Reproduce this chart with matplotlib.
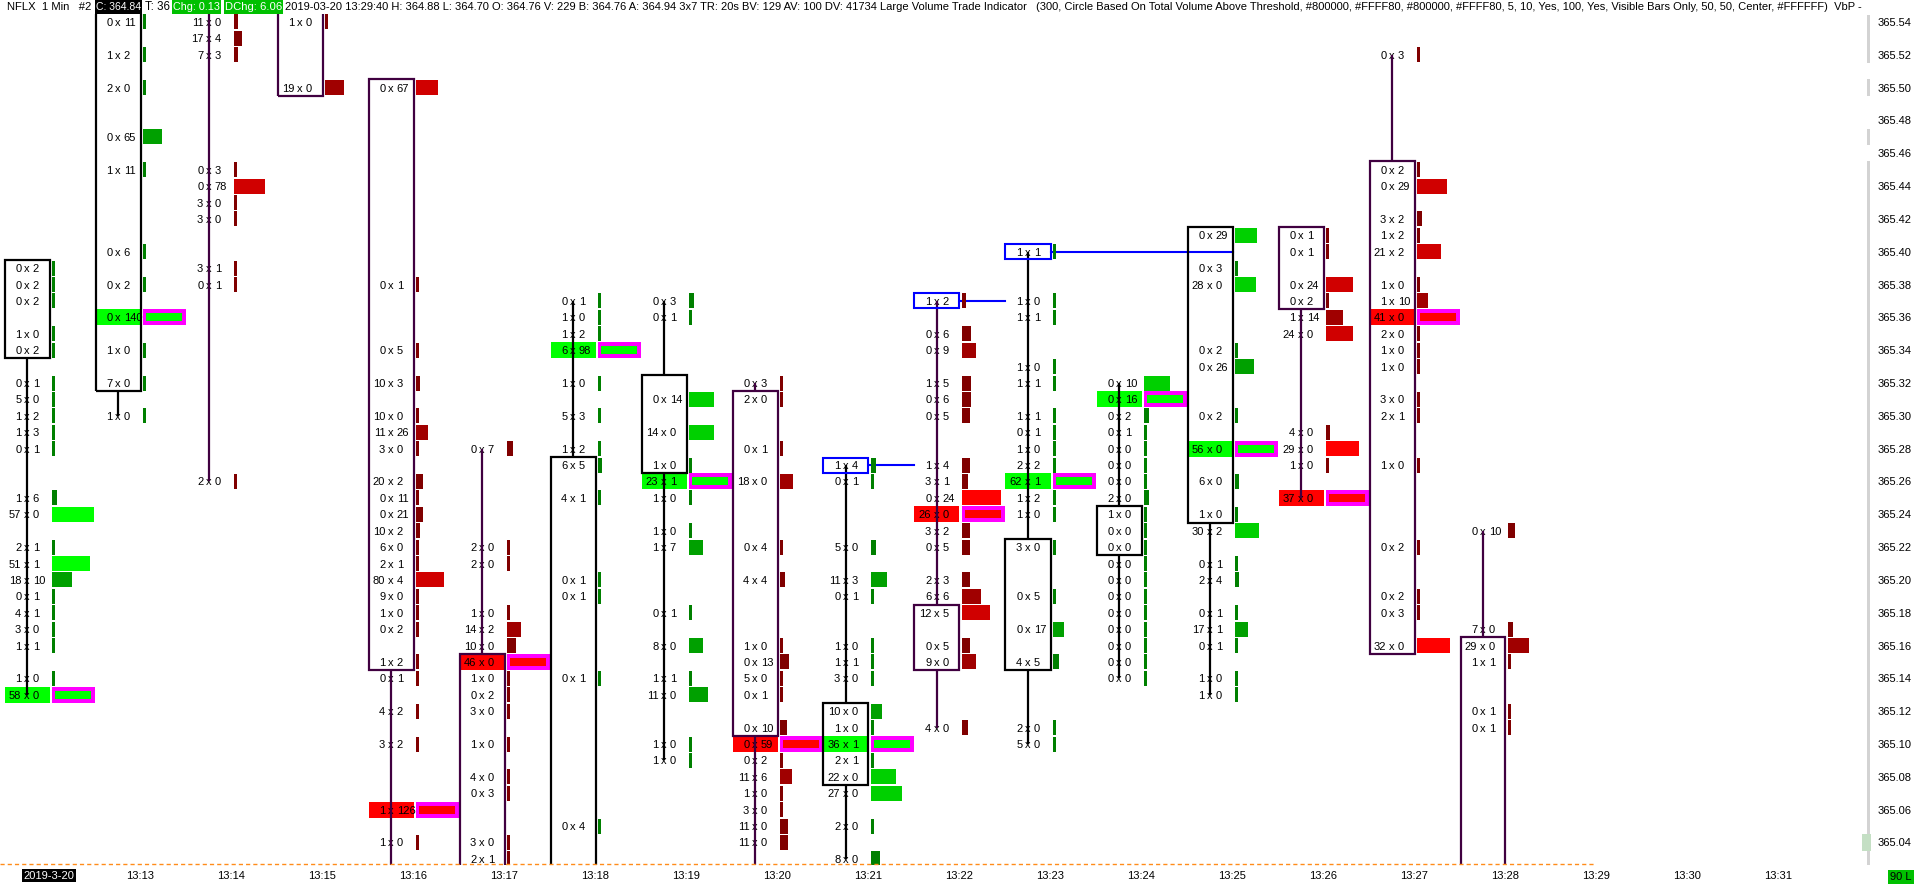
import numpy as np
import matplotlib.pyplot as plt
from matplotlib.patches import Rectangle
from matplotlib import font_manager

# ---- chart data ----
bar_labels = ['13:12', '13:13', '13:14', '13:15', '13:16', '13:17', '13:18', '13:19', '13:20',
              '13:21', '13:22', '13:23', '13:24', '13:25', '13:26', '13:27', '13:28']
bar_open = [365.34, 365.32, 365.60, 365.57, 365.50, 365.15, 364.99, 365.27, 365.31,
            365.08, 365.18, 365.15, 365.22, 365.24, 365.41, 365.45, 365.16]
bar_close = [365.39, 365.58, 365.57, 365.50, 365.15, 365.00, 365.27, 365.32, 365.11,
             365.12, 365.15, 365.22, 365.24, 365.41, 365.37, 365.16, 365.00]
bar_high = [365.39, 365.60, 365.63, 365.58, 365.50, 365.28, 365.37, 365.37, 365.32,
            365.27, 365.37, 365.40, 365.32, 365.41, 365.41, 365.52, 365.23]
bar_low = [365.13, 365.30, 365.26, 365.50, 365.00, 364.99, 364.98, 365.09, 365.01,
           365.03, 365.11, 365.10, 365.14, 365.13, 365.25, 365.16, 364.99]

# price, bid, ask
fp_1312 = [(365.39, 0, 2), (365.38, 0, 2), (365.37, 0, 2), (365.35, 1, 0), (365.34, 0, 2),
           (365.32, 0, 1), (365.31, 5, 0), (365.30, 1, 2), (365.29, 1, 3), (365.28, 0, 1),
           (365.25, 1, 6), (365.24, 57, 0), (365.22, 2, 1), (365.21, 51, 1), (365.20, 18, 10),
           (365.19, 0, 1), (365.18, 4, 1), (365.17, 3, 0), (365.16, 1, 1), (365.14, 1, 0),
           (365.13, 58, 0)]
fp_1313 = [(365.54, 0, 11), (365.52, 1, 2), (365.50, 2, 0), (365.47, 0, 65), (365.45, 1, 11),
           (365.40, 0, 6), (365.38, 0, 2), (365.36, 0, 140), (365.34, 1, 0), (365.32, 7, 0),
           (365.30, 1, 0)]
fp_1314 = [(365.54, 11, 0), (365.53, 17, 4), (365.52, 7, 3), (365.45, 0, 3), (365.44, 0, 78),
           (365.43, 3, 0), (365.42, 3, 0), (365.39, 3, 1), (365.38, 0, 1), (365.26, 2, 0)]
fp_1315 = [(365.54, 1, 0), (365.50, 19, 0)]
fp_1316 = [(365.50, 0, 67), (365.38, 0, 1), (365.34, 0, 5), (365.32, 10, 3), (365.30, 10, 0),
           (365.29, 11, 26), (365.28, 3, 0), (365.26, 20, 2), (365.25, 0, 11), (365.24, 0, 21),
           (365.23, 10, 2), (365.22, 6, 0), (365.21, 2, 1), (365.20, 80, 4), (365.19, 9, 0),
           (365.18, 1, 0), (365.17, 0, 2), (365.15, 1, 2), (365.14, 0, 1), (365.12, 4, 2),
           (365.10, 3, 2), (365.06, 1, 126), (365.04, 1, 0)]
fp_1317 = [(365.28, 0, 7), (365.22, 2, 0), (365.21, 2, 0), (365.18, 1, 0), (365.17, 14, 2),
           (365.16, 10, 0), (365.15, 46, 0), (365.14, 1, 0), (365.13, 0, 2), (365.12, 3, 0),
           (365.10, 1, 0), (365.08, 4, 0), (365.07, 0, 3), (365.04, 3, 0), (365.03, 2, 1)]
fp_1318 = [(365.37, 0, 1), (365.36, 1, 0), (365.35, 1, 2), (365.34, 6, 98), (365.32, 1, 0),
           (365.30, 5, 3), (365.28, 1, 2), (365.27, 6, 5), (365.25, 4, 1), (365.20, 0, 1),
           (365.19, 0, 1), (365.14, 0, 1), (365.05, 0, 4)]
fp_1319 = [(365.37, 0, 3), (365.36, 0, 1), (365.31, 0, 14), (365.29, 14, 0), (365.27, 1, 0),
           (365.26, 23, 1), (365.25, 1, 0), (365.23, 1, 0), (365.22, 1, 7), (365.18, 0, 1),
           (365.16, 8, 0), (365.14, 1, 1), (365.13, 11, 0), (365.10, 1, 0), (365.09, 1, 0)]
fp_1320 = [(365.32, 0, 3), (365.31, 2, 0), (365.28, 0, 1), (365.26, 18, 0), (365.22, 0, 4),
           (365.20, 4, 4), (365.16, 1, 0), (365.15, 0, 13), (365.14, 5, 0), (365.13, 0, 1),
           (365.11, 0, 10), (365.10, 0, 59), (365.09, 0, 2), (365.08, 11, 6), (365.07, 1, 0),
           (365.06, 3, 0), (365.05, 11, 0), (365.04, 11, 0)]
fp_1321 = [(365.27, 1, 4), (365.26, 0, 1), (365.22, 5, 0), (365.20, 11, 3), (365.19, 0, 1),
           (365.16, 1, 0), (365.15, 1, 1), (365.14, 3, 0), (365.12, 10, 0), (365.11, 1, 0),
           (365.10, 36, 1), (365.09, 2, 1), (365.08, 22, 0), (365.07, 27, 0), (365.05, 2, 0),
           (365.03, 8, 0)]
fp_1322 = [(365.37, 1, 2), (365.35, 0, 6), (365.34, 0, 9), (365.32, 1, 5), (365.31, 0, 6),
           (365.30, 0, 5), (365.27, 1, 4), (365.26, 3, 1), (365.25, 0, 24), (365.24, 26, 0),
           (365.23, 3, 2), (365.22, 0, 5), (365.20, 2, 3), (365.19, 6, 6), (365.18, 12, 5),
           (365.16, 0, 5), (365.15, 9, 0), (365.11, 4, 0)]
fp_1323 = [(365.40, 1, 1), (365.37, 1, 0), (365.36, 1, 1), (365.33, 1, 0), (365.32, 1, 1),
           (365.30, 1, 1), (365.29, 0, 1), (365.28, 1, 0), (365.27, 2, 2), (365.26, 62, 1),
           (365.25, 1, 2), (365.24, 1, 0), (365.22, 3, 0), (365.19, 0, 5), (365.17, 0, 17),
           (365.15, 4, 5), (365.11, 2, 0), (365.10, 5, 0)]
fp_1324 = [(365.32, 0, 10), (365.31, 0, 16), (365.30, 0, 2), (365.29, 0, 1), (365.28, 0, 0),
           (365.27, 0, 0), (365.26, 0, 0), (365.25, 2, 0), (365.24, 1, 0), (365.23, 0, 0),
           (365.22, 0, 0), (365.21, 0, 0), (365.20, 0, 0), (365.19, 0, 0), (365.18, 0, 0),
           (365.17, 0, 0), (365.16, 0, 0), (365.15, 0, 0), (365.14, 0, 0)]
fp_1325 = [(365.41, 0, 29), (365.39, 0, 3), (365.38, 28, 0), (365.34, 0, 2), (365.33, 0, 26),
           (365.30, 0, 2), (365.28, 56, 0), (365.26, 6, 0), (365.24, 1, 0), (365.23, 30, 2),
           (365.21, 0, 1), (365.20, 2, 4), (365.18, 0, 1), (365.17, 17, 1), (365.16, 0, 1),
           (365.14, 1, 0), (365.13, 1, 0)]
fp_1326 = [(365.41, 0, 1), (365.40, 0, 1), (365.38, 0, 24), (365.37, 0, 2), (365.36, 1, 14),
           (365.35, 24, 0), (365.29, 4, 0), (365.28, 29, 0), (365.27, 1, 0), (365.25, 37, 0)]
fp_1327 = [(365.52, 0, 3), (365.45, 0, 2), (365.44, 0, 29), (365.42, 3, 2), (365.41, 1, 2),
           (365.40, 21, 2), (365.38, 1, 0), (365.37, 1, 10), (365.36, 41, 0), (365.35, 2, 0),
           (365.34, 1, 0), (365.33, 1, 0), (365.31, 3, 0), (365.30, 2, 1), (365.27, 1, 0),
           (365.22, 0, 2), (365.19, 0, 2), (365.18, 0, 3), (365.16, 32, 0)]
fp_1328 = [(365.23, 0, 10), (365.17, 7, 0), (365.16, 29, 0), (365.15, 1, 1), (365.12, 0, 1),
           (365.11, 0, 1)]

footprints = [fp_1312, fp_1313, fp_1314, fp_1315, fp_1316, fp_1317, fp_1318, fp_1319, fp_1320,
              fp_1321, fp_1322, fp_1323, fp_1324, fp_1325, fp_1326, fp_1327, fp_1328]

# bars whose largest level is off screen
hidden_max = {2: 105, 3: 43, 16: 59}

# untested (naked) levels: bar, price, bar where the ray stops, side of that bar
naked_bar = [9, 10, 11]
naked_price = [365.27, 365.37, 365.40]
naked_stop = [10, 11, 13]
naked_side = [-1, -1, 1]

time_labels = ['2019-3-20'] + ['13:%02d' % m for m in range(13, 32)]
price_ticks = np.round(np.arange(365.04, 365.545, 0.02), 2)
vbp_gaps = [365.51, 365.49, 365.48, 365.46]

# ---- geometry (pixels of the 1916x886 image) ----
W, H = 1916, 886
PX = 1 / 91.0          # x units per pixel
PY = 1 / 1641.0        # price per pixel
HALF = 22.5 * PX
BOFF = 24.5 * PX
BMAX = 43 * PX
BMIN = 3 * PX
GAP = 5.7 * PX

GREENS = ['#008000', '#00a000', '#00d000', '#00ff00']
REDS = ['#800000', '#a00000', '#d00000', '#ff0000']
PURPLE = '#400040'

names = {f.name for f in font_manager.fontManager.ttflist}
if 'Liberation Sans Narrow' in names:
    plt.rcParams['font.family'] = ['Liberation Sans Narrow', 'DejaVu Sans']
    FS = 9.4
else:
    plt.rcParams['font.family'] = ['Liberation Sans', 'DejaVu Sans']
    FS = 8.0

fig = plt.figure(figsize=(W / 100, H / 100), dpi=100)
ax = fig.add_axes([0, 21 / H, 1870 / W, 851 / H])
ax.set_xlim(-27 * PX, 1843 * PX)
ax.set_ylim(365.54 - 843 * PY, 365.54 + 8 * PY)
for s in ax.spines.values():
    s.set_visible(False)

for i, levels in enumerate(footprints):
    o, c, h, l = bar_open[i], bar_close[i], bar_high[i], bar_low[i]
    up = c > o
    edge = 'black' if up else PURPLE
    shades = GREENS if up else REDS
    vols = [b + a for _, b, a in levels]
    vmax = hidden_max.get(i, max(vols))
    for (p, b, a), v in zip(levels, vols):
        frac = v / vmax
        if v == vmax:
            ax.add_patch(Rectangle((i - HALF, p - 8 * PY), 2 * HALF, 16 * PY, color=shades[-1], lw=0, zorder=1))
            ax.add_patch(Rectangle((i + BOFF, p - 8 * PY), BMAX, 16 * PY, color='#ff00ff', lw=0, zorder=2))
            ax.add_patch(Rectangle((i + BOFF + 3.3 * PX, p - 4 * PY), BMAX - 6.6 * PX, 8 * PY,
                                   color=shades[-1], lw=0, zorder=2))
        else:
            w = max(BMIN, frac * BMAX)
            ax.add_patch(Rectangle((i + BOFF, p - 7.5 * PY), w, 15 * PY,
                                   color=shades[min(3, int(frac * 4))], lw=0, zorder=2))
        ax.text(i - GAP, p, str(b), ha='right', va='center_baseline', fontsize=FS, zorder=3)
        ax.text(i, p, 'x', ha='center', va='center_baseline', fontsize=FS, zorder=3)
        ax.text(i + GAP, p, str(a), ha='left', va='center_baseline', fontsize=FS, zorder=3)

    top, bot = max(o, c) + 0.005, min(o, c) - 0.005
    ax.add_patch(Rectangle((i - HALF, bot), 2 * HALF, top - bot, fill=False, edgecolor=edge,
                           lw=1.6, zorder=4))
    if h > top:
        ax.plot([i, i], [top, h], color=edge, lw=1.6, zorder=4, solid_capstyle='butt')
    if l < bot:
        ax.plot([i, i], [bot, l], color=edge, lw=1.6, zorder=4, solid_capstyle='butt')

# naked levels
for i, p, j, side in zip(naked_bar, naked_price, naked_stop, naked_side):
    ax.add_patch(Rectangle((i - HALF, p - 7.5 * PY), 2 * HALF, 15 * PY, fill=False,
                           edgecolor='#0000ff', lw=1.5, zorder=4))
    ax.plot([i + HALF, j + side * HALF], [p, p], color='#0000ff', lw=1.5, zorder=1.5)

# session line at the bottom
ax.plot([ax.get_xlim()[0], 17 + 22 * PX], [365.54 - 842 * PY] * 2, color='#ff8c1a',
        lw=1.0, dashes=(3, 2.2), clip_on=False, zorder=5)

# volume by price strip on the right edge
ax.add_patch(Rectangle((1 - 3 / 1870, 0), 3 / 1870, 1 - 1 / 851, transform=ax.transAxes,
                       color='#d3d3d3', lw=0, clip_on=False, zorder=5))
for g in vbp_gaps:
    ax.add_patch(Rectangle((1843 * PX - 3 * PX, g - 0.005), 4 * PX, 0.01, color='white', lw=0,
                           clip_on=False, zorder=5))
ax.add_patch(Rectangle((1843 * PX - 8 * PX, 365.04 - 0.005), 9 * PX, 0.01, color='#c4dfc4', lw=0,
                       clip_on=False, zorder=5))

# axes ticks
ax.set_xticks([i + 22 * PX for i in range(len(time_labels))])
ax.set_xticklabels(time_labels, fontsize=FS)
ax.tick_params(axis='x', length=0, pad=4)
lab0 = ax.get_xticklabels()[0]
lab0.set_color('white')
lab0.set_bbox(dict(facecolor='black', edgecolor='none', pad=1.2))
ax.yaxis.tick_right()
ax.set_yticks(price_ticks)
ax.set_yticklabels(['%.2f' % v for v in price_ticks], fontsize=FS)
ax.tick_params(axis='y', length=0, pad=5.8)

# header line
renderer = fig.canvas.get_renderer()


def header(x0, x1, s, color='black', bg=None):
    if bg is not None:
        fig.add_artist(Rectangle((x0 / W, 1 - 13.5 / H), (x1 - x0) / W, 13.5 / H,
                                 transform=fig.transFigure, color=bg, lw=0))
        x0, x1 = x0 + 1, x1 - 1
    t = fig.text(x0 / W, 1 - 7.5 / H, s, ha='left', va='center', fontsize=FS, color=color)
    w = t.get_window_extent(renderer).width
    t.set_fontsize(FS * (x1 - x0) / w)


header(7, 92, 'NFLX  1 Min   #2')
header(95, 142, 'C: 364.84', 'white', 'black')
header(145, 170, 'T: 36')
header(172, 221, 'Chg: 0.13', 'white', '#00c000')
header(224, 283, 'DChg: 6.06', 'white', '#00c000')
header(285, 1027, '2019-03-20 13:29:40 H: 364.88 L: 364.70 O: 364.76 V: 229 B: 364.76 '
                  'A: 364.94 3x7 TR: 20s BV: 129 AV: 100 DV: 41734 Large Volume Trade Indicator')
header(1036, 1868, '(300, Circle Based On Total Volume Above Threshold, #800000, #FFFF80, '
                   '#800000, #FFFF80, 5, 10, Yes, 100, Yes, Visible Bars Only, 50, 50, Center, '
                   '#FFFFFF)  VbP -')

fig.text(1901 / W, 1 - 877 / H, '90 L', ha='center', va='center', fontsize=FS,
         bbox=dict(facecolor='#00c000', edgecolor='none', pad=1.5))

fig.savefig('out.png', dpi=100, facecolor='white')
